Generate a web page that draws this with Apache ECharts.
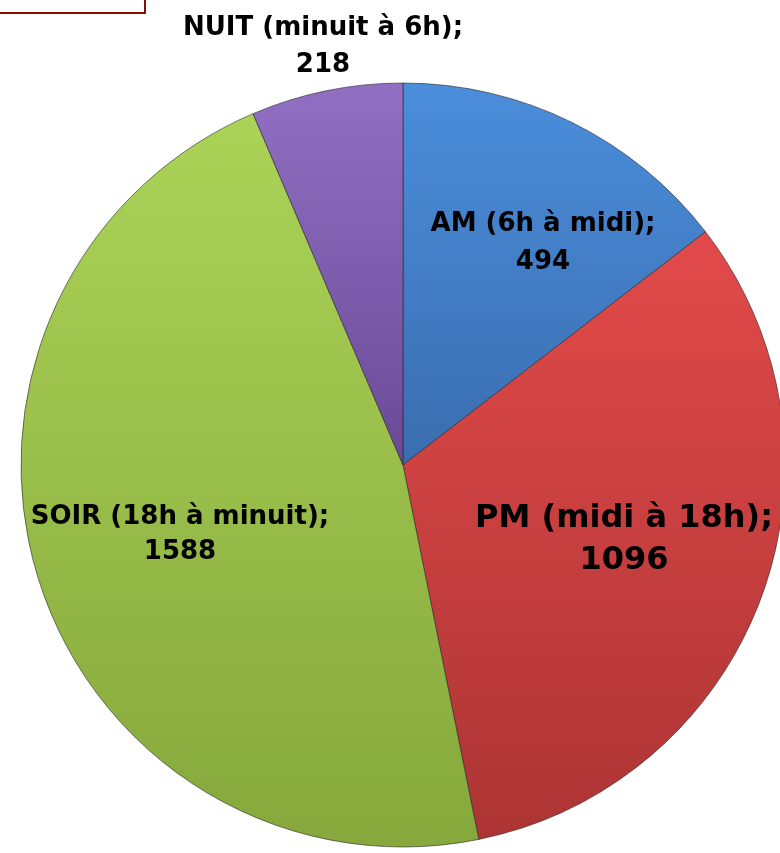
<!DOCTYPE html>
<html><head><meta charset="utf-8">
<script src="https://cdn.jsdelivr.net/npm/echarts@6/dist/echarts.min.js"></script>
<style>html,body{margin:0;padding:0;background:#fff}#c{width:780px;height:853px}</style>
</head><body><div id="c"></div>
<script>
const categories = ['AM (6h à midi)', 'PM (midi à 18h)', 'SOIR (18h à minuit)', 'NUIT (minuit à 6h)'];
const values = [494, 1096, 1588, 218];

const gradColors = [['#4b8edb', '#3a6daf'], ['#e24a4a', '#ad3434'], ['#abd357', '#86a83c'], ['#9170c4', '#6a4a96']];
const labelPos = [[543, 243], [624, 540], [180, 535], [323, 47]];
const labelSize = [26, 32, 26, 26];
const labelLH = [38, 42, 35, 37];

const chart = echarts.init(document.getElementById('c'));
chart.setOption({
  animation: false,
  graphic: [{type: 'rect', shape: {x: -5, y: -5, width: 150, height: 18}, style: {fill: 'none', stroke: '#8b0a0a', lineWidth: 2}}],
  series: [{
    type: 'pie',
    center: [403, 465],
    radius: 382,
    startAngle: 90,
    clockwise: true,
    data: categories.map((c, i) => ({
      name: c, value: values[i],
      itemStyle: {color: new echarts.graphic.LinearGradient(0, 0, 0, 1, [{offset: 0, color: gradColors[i][0]}, {offset: 1, color: gradColors[i][1]}])},
      label: {fontSize: labelSize[i], lineHeight: labelLH[i]}
    })),
    itemStyle: {borderColor: 'rgba(40,40,40,0.6)', borderWidth: 1},
    label: {
      show: true, position: 'inside', formatter: '{b};\n{c}',
      color: '#000', fontWeight: 'bold', fontFamily: 'DejaVu Sans', align: 'center', verticalAlign: 'middle'
    },
    labelLine: {show: false},
    labelLayout: p => ({x: labelPos[p.dataIndex][0], y: labelPos[p.dataIndex][1], align: 'center', verticalAlign: 'middle'})
  }]
});
</script></body></html>
